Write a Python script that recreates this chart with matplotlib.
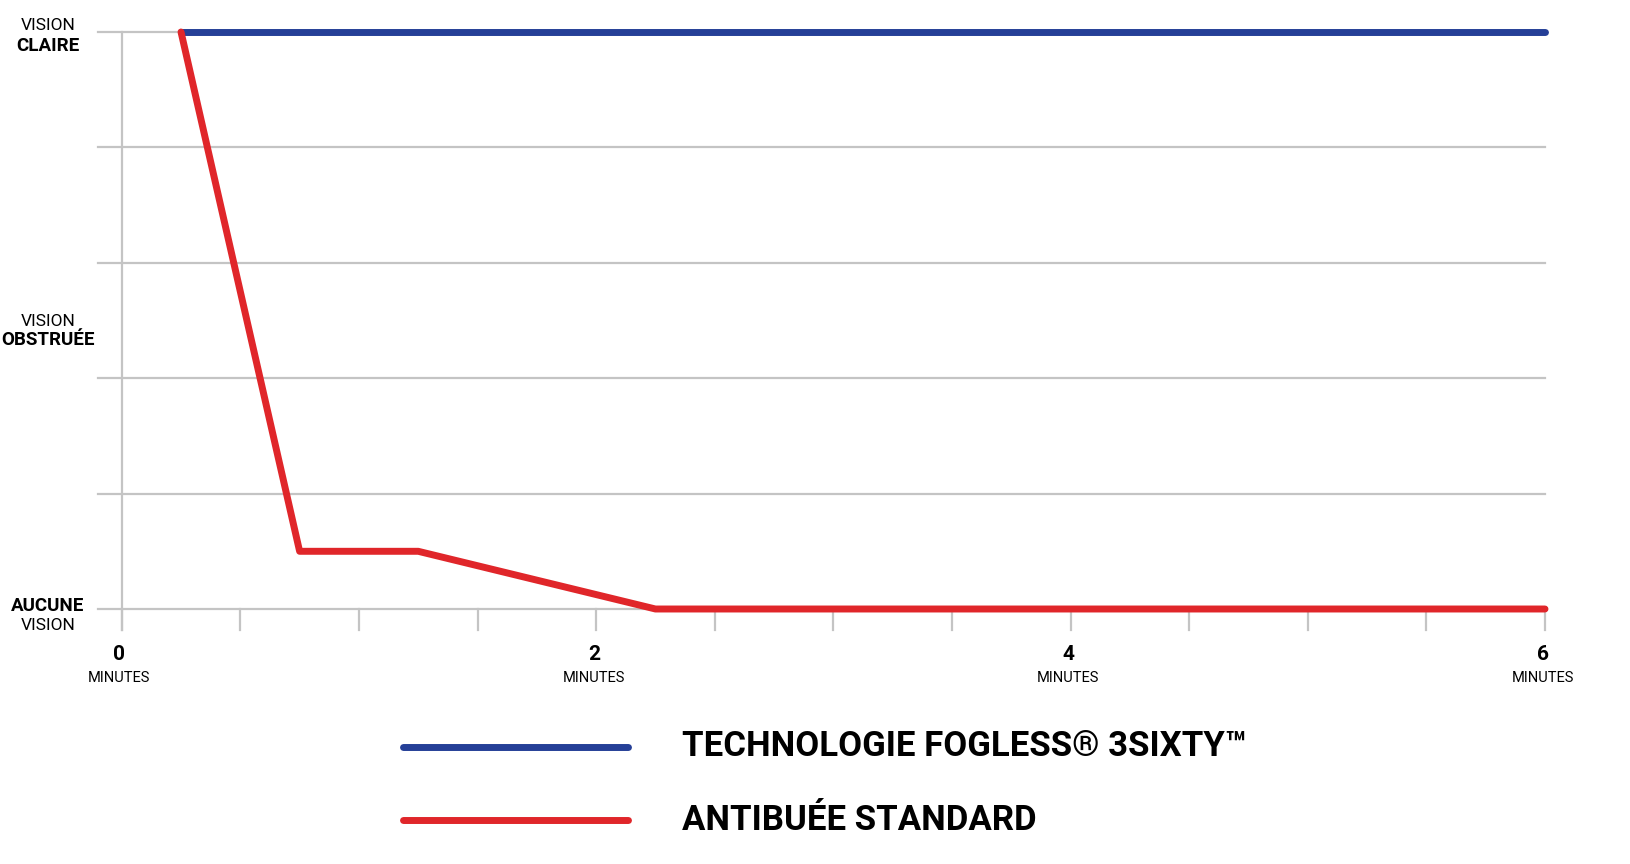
import matplotlib
matplotlib.use("Agg")
import matplotlib.pyplot as plt

fog_x = [0.25, 6]
fog_y = [5, 5]
std_x = [0.25, 0.75, 1.25, 2.25, 6]
std_y = [5, 0.5, 0.5, 0, 0]
major_ticks = [0, 2, 4, 6]
minor_ticks = [0.5 * i for i in range(13)]
legend_labels = ["TECHNOLOGIE FOGLESS® 3SIXTY™", "ANTIBUÉE STANDARD"]
BLUE = "#253f97"
RED = "#e0262a"
GRID = "#c4c4c4"

plt.rcParams['font.family'] = ['Roboto', 'DejaVu Sans']
W, H = 1630, 864
fig = plt.figure(figsize=(W / 100, H / 100), dpi=100)
l, r, t, b = 98, 1545, 32, 609
ax = fig.add_axes([l / W, 1 - b / H, (r - l) / W, (b - t) / H])
ax.set_xlim(-0.1, 6)
ax.set_ylim(0, 5)
ax.axis("off")
for y in range(6):
    ax.plot([-0.1, 6], [y, y], color=GRID, lw=1.6, clip_on=False, zorder=1)
ax.plot([0, 0], [-0.18, 5], color=GRID, lw=1.6, clip_on=False, zorder=1)
for xt in minor_ticks:
    ax.plot([xt, xt], [0, -0.18], color=GRID, lw=1.6, clip_on=False, zorder=1)
ax.plot(fog_x, fog_y, color=BLUE, lw=5, solid_capstyle="round", clip_on=False, zorder=3)
ax.plot(std_x, std_y, color=RED, lw=5, solid_capstyle="round", clip_on=False, zorder=3)

for xt in major_ticks:
    ax.text(xt - 0.01, -0.39, str(xt), ha="center", va="center", fontsize=15, fontweight="bold", clip_on=False)
    ax.text(xt - 0.01, -0.6, "MINUTES", ha="center", va="center", fontsize=10.5, fontstretch="condensed", clip_on=False)

def ylab(ypx, txt, bold):
    fig.text(48 / W, 1 - ypx / H, txt, ha="center", va="center", fontsize=13.5 if bold else 12.5,
             fontweight="bold" if bold else "normal")
ylab(26, "VISION", False)
ylab(46, "CLAIRE", True)
ylab(321, "VISION", False)
ylab(340, "OBSTRUÉE", True)
ylab(606, "AUCUNE", True)
ylab(626, "VISION", False)

for ypx, c, lab in [(747, BLUE, legend_labels[0]), (820, RED, legend_labels[1])]:
    fig.add_artist(plt.Line2D([403 / W, 628 / W], [1 - ypx / H] * 2, color=c, lw=5, solid_capstyle="round"))
    fig.text(682 / W, 1 - ypx / H, lab, ha="left", va="center", fontsize=25, fontweight="bold")

fig.savefig("out.png", dpi=100)
